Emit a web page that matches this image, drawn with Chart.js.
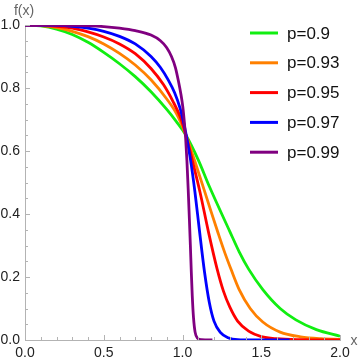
<!DOCTYPE html>
<html>
<head>
<meta charset="utf-8">
<script src="https://cdn.jsdelivr.net/npm/chart.js@4/dist/chart.umd.min.js"></script>
<style>
html,body{margin:0;padding:0;background:#fff;}
#wrap{position:relative;width:360px;height:362px;}
</style>
</head>
<body>
<div id="wrap"><canvas id="c" width="360" height="362"></canvas></div>
<script>
const seriesLabels = ["p=0.9", "p=0.93", "p=0.95", "p=0.97", "p=0.99"];
const seriesColors = ["#11ee11", "#ff8000", "#ff0000", "#0000ff", "#800080"];
const xTicks = [0, 0.5, 1.0, 1.5, 2.0];
const yTicks = [0, 0.2, 0.4, 0.6, 0.8, 1.0];

const p090 = [[0,1],[0.1,0.997],[0.2,0.987],[0.3,0.97],[0.4,0.945],[0.5,0.913],[0.6,0.877],[0.7,0.836],[0.8,0.788],[0.9,0.732],[0.96,0.694],[1.022,0.65],[1.1,0.572],[1.17,0.488],[1.3,0.345],[1.36,0.28],[1.42,0.225],[1.51,0.16],[1.62,0.1],[1.72,0.064],[1.85,0.033],[2.0,0.012]];
const p093 = [[0,1],[0.1,0.998],[0.2,0.992],[0.3,0.98],[0.4,0.963],[0.5,0.94],[0.6,0.91],[0.7,0.873],[0.8,0.826],[0.9,0.765],[0.96,0.72],[1.022,0.65],[1.08,0.565],[1.138,0.476],[1.18,0.41],[1.227,0.338],[1.27,0.275],[1.31,0.222],[1.36,0.16],[1.43,0.1],[1.51,0.057],[1.62,0.025],[1.75,0.01],[1.88,0.004],[2.0,0.002]];
const p095 = [[0,1],[0.2,0.996],[0.3,0.99],[0.4,0.978],[0.5,0.962],[0.6,0.94],[0.7,0.909],[0.8,0.862],[0.88,0.81],[0.94,0.757],[0.984,0.71],[1.022,0.65],[1.065,0.565],[1.111,0.47],[1.164,0.345],[1.22,0.225],[1.26,0.155],[1.3,0.105],[1.35,0.06],[1.42,0.028],[1.5,0.011],[1.6,0.004],[1.75,0.001],[2.0,0]];
const p097 = [[0,1],[0.2,0.999],[0.3,0.996],[0.4,0.99],[0.5,0.98],[0.6,0.964],[0.7,0.94],[0.8,0.9],[0.86,0.865],[0.91,0.825],[0.95,0.785],[0.985,0.735],[1.022,0.655],[1.05,0.575],[1.079,0.47],[1.107,0.35],[1.14,0.215],[1.17,0.12],[1.2,0.06],[1.24,0.024],[1.29,0.007],[1.35,0.001],[1.45,0],[1.68,0]];
const p099 = [[0,1],[0.3,0.999],[0.5,0.995],[0.6,0.99],[0.7,0.982],[0.8,0.968],[0.86,0.95],[0.9,0.928],[0.93,0.9],[0.955,0.865],[0.975,0.82],[0.99,0.78],[1.002,0.74],[1.012,0.69],[1.02,0.64],[1.028,0.57],[1.036,0.48],[1.044,0.38],[1.05,0.3],[1.056,0.215],[1.062,0.14],[1.07,0.07],[1.08,0.025],[1.095,0.006],[1.12,0.001],[1.19,0]];
const seriesData = [p090, p093, p095, p097, p099];

const FONT = "'Liberation Sans', Arial, sans-serif";

const overlay = {
  id: 'overlay',
  afterDraw(chart) {
    const ctx = chart.ctx;
    const xs = chart.scales.x, ys = chart.scales.y;
    const x0 = xs.getPixelForValue(0), y0 = ys.getPixelForValue(0);
    ctx.save();
    ctx.strokeStyle = '#b3b3b3';
    ctx.lineWidth = 1;
    ctx.beginPath();
    for (let i = 0; i <= 20; i++) {
      const v = i / 10;
      const px = Math.round(xs.getPixelForValue(v)) + 0.5;
      const len = (i % 5 === 0) ? 5 : 3;
      ctx.moveTo(px, y0);
      ctx.lineTo(px, y0 - len);
    }
    for (let i = 0; i <= 20; i++) {
      const v = i / 20;
      const py = Math.round(ys.getPixelForValue(v)) + 0.5;
      const len = (i % 4 === 0) ? 5 : 3;
      ctx.moveTo(x0, py);
      ctx.lineTo(x0 + len, py);
    }
    ctx.stroke();
    ctx.fillStyle = '#666';
    ctx.font = '14px ' + FONT;
    ctx.textAlign = 'center';
    ctx.textBaseline = 'middle';
    ctx.fillText('f(x)', x0 - 1, 11);
    ctx.fillText('x', xs.getPixelForValue(2) + 14, y0 + 1);
    ctx.font = '17px ' + FONT;
    ctx.textAlign = 'left';
    chart.data.datasets.forEach((ds, i) => {
      const cy = 33 + i * 29.8;
      ctx.strokeStyle = ds.borderColor;
      ctx.lineWidth = 3;
      ctx.beginPath();
      ctx.moveTo(250, cy);
      ctx.lineTo(278, cy);
      ctx.stroke();
      ctx.fillStyle = '#111';
      ctx.fillText(ds.label, 287, cy + 1);
    });
    ctx.restore();
  }
};

new Chart(document.getElementById('c'), {
  type: 'line',
  data: {
    datasets: seriesLabels.map((lab, i) => ({
      label: lab,
      data: seriesData[i].map(p => ({x: p[0], y: p[1]})),
      borderColor: seriesColors[i],
      backgroundColor: seriesColors[i],
      borderWidth: 2.8,
      pointRadius: 0,
      fill: false,
      cubicInterpolationMode: 'monotone',
      order: 5 - i
    }))
  },
  options: {
    responsive: false,
    animation: false,
    events: [],
    layout: {padding: {left: 0, right: 20, top: 25, bottom: 0}},
    plugins: {legend: {display: false}, tooltip: {enabled: false}},
    scales: {
      x: {
        type: 'linear', min: 0, max: 2,
        afterBuildTicks: s => { s.ticks = xTicks.map(v => ({value: v})); },
        afterFit: s => { s.height = 22; },
        grid: {drawOnChartArea: false, drawTicks: false},
        border: {color: '#b3b3b3', width: 1},
        ticks: {color: '#222', font: {family: FONT, size: 14}, padding: 5, maxRotation: 0,
                callback: v => v.toFixed(1)}
      },
      y: {
        type: 'linear', min: 0, max: 1,
        afterBuildTicks: s => { s.ticks = yTicks.map(v => ({value: v})); },
        afterFit: s => { s.width = 25; },
        grid: {drawOnChartArea: false, drawTicks: false},
        border: {color: '#b3b3b3', width: 1},
        ticks: {color: '#222', font: {family: FONT, size: 14}, padding: 5,
                callback: v => v.toFixed(1)}
      }
    }
  },
  plugins: [overlay]
});
</script>
</body>
</html>
